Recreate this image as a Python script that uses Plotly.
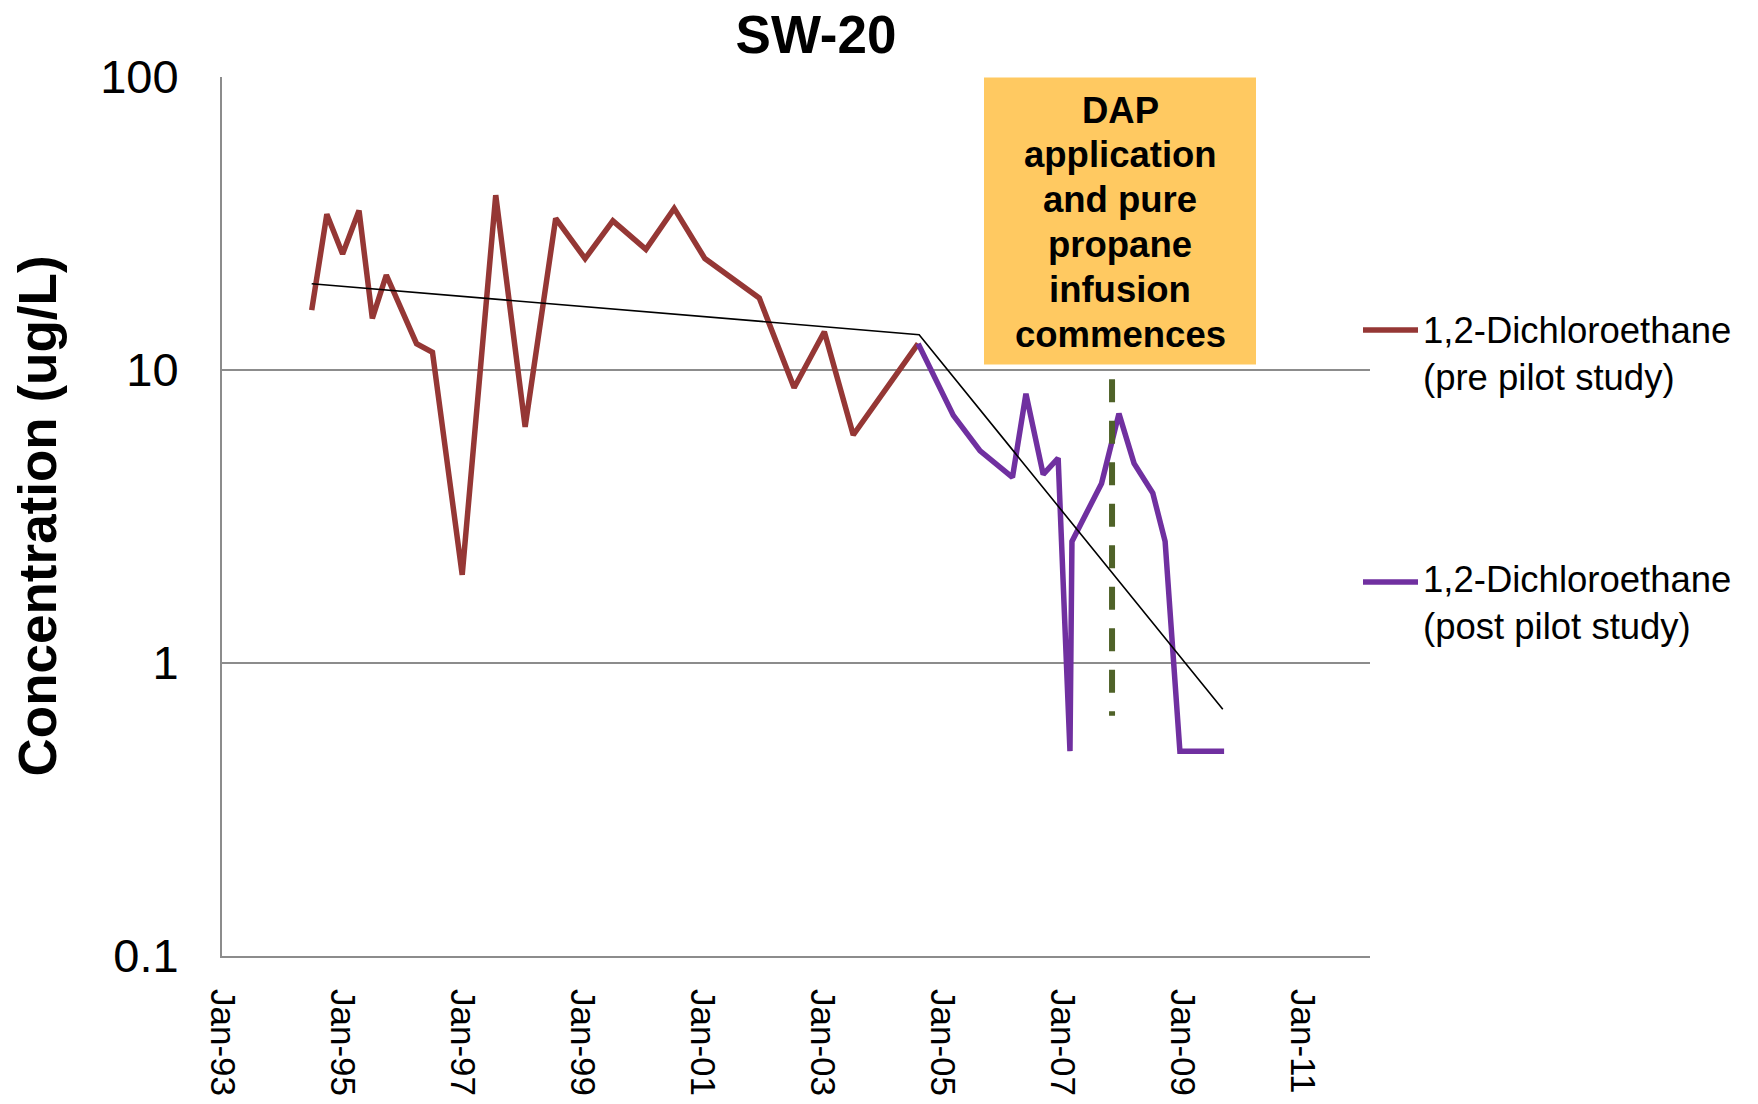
import plotly.graph_objects as go

# 1,2-Dichloroethane concentrations at well SW-20 (ug/L)
pre_dates = ["1994-07-01", "1994-10-01", "1995-01-05", "1995-04-15", "1995-07-05",
             "1995-09-28", "1996-03-30", "1996-07-05", "1997-01-02", "1997-07-25",
             "1998-01-20", "1998-07-25", "1999-01-20", "1999-07-08", "2000-01-25",
             "2000-07-15", "2001-01-18", "2001-12-15", "2002-07-15", "2003-01-15",
             "2003-07-10", "2004-08-08"]
pre_values = [16.0, 34.0, 24.9, 35.0, 15.0, 21.1, 12.3, 11.5, 2.0, 39.5,
              6.4, 32.9, 24.0, 32.3, 25.8, 35.6, 24.0, 17.6, 8.7, 13.5,
              6.0, 12.3]

post_dates = ["2004-08-08", "2005-03-10", "2005-08-20", "2006-03-05", "2006-05-26",
              "2006-09-08", "2006-12-08", "2007-02-18", "2007-03-02", "2007-08-29",
              "2007-12-13", "2008-03-14", "2008-07-06", "2008-09-19", "2008-12-18",
              "2009-09-13"]
post_values = [12.3, 7.0, 5.3, 4.3, 8.3, 4.4, 5.0, 0.5, 2.6, 4.1,
               7.1, 4.8, 3.8, 2.6, 0.5, 0.5]

# Trend lines (before / after pilot study)
trend_dates = ["1994-07-01", "2004-08-14", "2009-09-05"]
trend_values = [19.7, 13.2, 0.695]

# DAP application marker
dap_date = "2007-11-01"
dap_span = [9.3, 0.66]
dap_note = ["DAP", "application", "and pure", "propane", "infusion", "commences"]

series_names = ["1,2-Dichloroethane<br>(pre pilot study)",
                "1,2-Dichloroethane<br>(post pilot study)"]
series_colors = ["#953735", "#7030A0"]

y_ticks = [0.1, 1, 10, 100]
y_ticktext = ["0.1", "1", "10", "100"]

FONT = "Arial, 'Liberation Sans', sans-serif"
GRID = "#8c8c8c"
LINE_W = 5.5

W, H = 1758, 1104
L, R, T, B = 222, 1370, 77, 956  # plot area in pixels


def px_x(px):
    return (px - L) / (R - L)


def px_y(py):
    return (B - py) / (B - T)


fig = go.Figure()

fig.add_trace(go.Scatter(x=pre_dates, y=pre_values, mode="lines",
                         line=dict(color=series_colors[0], width=LINE_W),
                         showlegend=False, name=series_names[0]))
fig.add_trace(go.Scatter(x=post_dates, y=post_values, mode="lines",
                         line=dict(color=series_colors[1], width=LINE_W),
                         showlegend=False, name=series_names[1]))
fig.add_trace(go.Scatter(x=trend_dates, y=trend_values, mode="lines",
                         line=dict(color="black", width=1.6),
                         showlegend=False, name="trend"))
fig.add_trace(go.Scatter(x=[dap_date, dap_date], y=dap_span, mode="lines",
                         line=dict(color="#4F6228", width=6, dash="23px,18.5px"),
                         showlegend=False, name="DAP"))

# Annotation box, one text line at a time for tight line spacing
fig.add_shape(type="rect", xref="paper", yref="paper",
              x0=px_x(984), x1=px_x(1256), y0=px_y(364.5), y1=px_y(77.5),
              fillcolor="#FFC961", line=dict(width=0), layer="above")
for i, line in enumerate(dap_note):
    fig.add_annotation(xref="paper", yref="paper", x=px_x(1120), y=px_y(110 + 44.8 * i),
                       text=line, showarrow=False, xanchor="center", yanchor="middle",
                       font=dict(family=FONT, size=36.5, color="black", weight="bold"))

# Legend
legend_rows = [(330, 353.5), (582, 603.5)]
for (ly, ty), name, col in zip(legend_rows, series_names, series_colors):
    fig.add_shape(type="line", xref="paper", yref="paper",
                  x0=px_x(1363), x1=px_x(1418), y0=px_y(ly), y1=px_y(ly),
                  line=dict(color=col, width=LINE_W))
    fig.add_annotation(xref="paper", yref="paper", x=px_x(1421), y=px_y(ty),
                       text=name, showarrow=False, xanchor="left", yanchor="middle",
                       align="left", font=dict(family=FONT, size=36.5, color="black"))

# Y axis title
fig.add_annotation(xref="paper", yref="paper", x=px_x(37), y=0.5,
                   text="Concentration (ug/L)", textangle=-90, showarrow=False,
                   xanchor="center", yanchor="middle",
                   font=dict(family=FONT, size=53, color="black", weight="bold"))

fig.update_layout(
    width=W, height=H, autosize=False,
    margin=dict(l=L, r=W - R, t=T, b=H - B, autoexpand=False),
    paper_bgcolor="white", plot_bgcolor="white",
    title=dict(text="<b>SW-20</b>", x=px_x(816), xref="paper", xanchor="center",
               y=1 - 34 / H, yanchor="middle",
               font=dict(family=FONT, size=53, color="black")),
    font=dict(family=FONT, color="black"),
    showlegend=False,
)

fig.update_xaxes(
    type="date", range=["1993-01-01", "2012-02-18"],
    tick0="1993-01-01", dtick="M24", tickformat="%b-%y", tickangle=90,
    showgrid=False, zeroline=False, automargin=False,
    showline=True, linecolor=GRID, linewidth=2,
    ticks="", ticklabelstandoff=24,
    tickfont=dict(family=FONT, size=35, color="black"),
)
fig.update_yaxes(
    type="log", range=[-1, 2],
    tickvals=y_ticks, ticktext=y_ticktext,
    showgrid=True, gridcolor=GRID, gridwidth=1.6,
    zeroline=False, showline=True, linecolor=GRID, linewidth=2,
    ticks="", ticklabelstandoff=32, automargin=False,
    tickfont=dict(family=FONT, size=47, color="black"),
)

fig.write_html("out.html")
